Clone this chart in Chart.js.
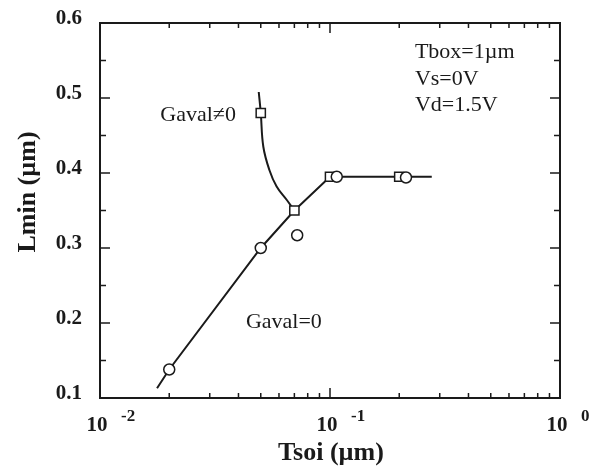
<!DOCTYPE html>
<html>
<head>
<meta charset="utf-8">
<script src="https://cdn.jsdelivr.net/npm/chart.js@4.4.1/dist/chart.umd.min.js"></script>
<style>
  html, body { margin: 0; padding: 0; background: #fff; }
</style>
</head>
<body>
<canvas id="lminChart" width="599" height="468"></canvas>
<script>
// measured points (Tsoi in um, Lmin in um)
const circleX = [0.02, 0.05, 0.072, 0.107, 0.214];
const circleY = [0.138, 0.3, 0.317, 0.395, 0.394];
const squareX = [0.05, 0.07, 0.1, 0.2];
const squareY = [0.48, 0.35, 0.395, 0.395];

// fitted curves
const gavalZeroX = [0.0177, 0.02, 0.05, 0.07, 0.1, 0.2, 0.277];
const gavalZeroY = [0.113, 0.138, 0.3, 0.35, 0.395, 0.395, 0.395];
const gavalNonZeroX = [0.049, 0.05, 0.0513, 0.0545, 0.0586, 0.0649, 0.07];
const gavalNonZeroY = [0.508, 0.48, 0.435, 0.404, 0.382, 0.364, 0.35];

// axes
const xMajorTicks = [0.01, 0.1, 1];
const xExponents = ['-2', '-1', '0'];
const yTicks = [0.1, 0.2, 0.3, 0.4, 0.5, 0.6];

const INK = '#1a1a1a';
const SERIF = '"Liberation Serif", "DejaVu Serif", serif';

const toPoints = (xs, ys) => xs.map((x, i) => ({ x, y: ys[i] }));

const frame = {
  id: 'frame',
  afterDraw(chart) {
    const { ctx, chartArea: a, scales: { x, y } } = chart;
    ctx.save();
    ctx.strokeStyle = INK;
    ctx.fillStyle = INK;

    // box
    ctx.lineWidth = 2;
    ctx.strokeRect(a.left, a.top, a.right - a.left, a.bottom - a.top);

    // x ticks (log), inward on top and bottom
    ctx.lineWidth = 1.5;
    ctx.beginPath();
    for (let d = 0; d < xMajorTicks.length - 1; d++) {
      for (let m = 1; m < 10; m++) {
        const px = x.getPixelForValue(xMajorTicks[d] * m);
        const len = m === 1 ? 10 : 5;
        ctx.moveTo(px, a.bottom); ctx.lineTo(px, a.bottom - len);
        ctx.moveTo(px, a.top); ctx.lineTo(px, a.top + len);
      }
    }
    // y ticks, major and half steps
    for (let i = 0; i < yTicks.length - 1; i++) {
      [yTicks[i], (yTicks[i] + yTicks[i + 1]) / 2].forEach((v, k) => {
        const py = y.getPixelForValue(v);
        const len = k === 0 ? 10 : 6;
        ctx.moveTo(a.left, py); ctx.lineTo(a.left + len, py);
        ctx.moveTo(a.right, py); ctx.lineTo(a.right - len, py);
      });
    }
    ctx.stroke();

    // y tick labels
    ctx.font = `bold 21px ${SERIF}`;
    ctx.textAlign = 'right';
    ctx.textBaseline = 'middle';
    yTicks.forEach(v => {
      ctx.fillText(v.toFixed(1), a.left - 18, y.getPixelForValue(v) - 4);
    });

    // x tick labels: 10 with exponent
    xMajorTicks.forEach((v, i) => {
      const px = x.getPixelForValue(v);
      ctx.font = `bold 21px ${SERIF}`;
      ctx.textAlign = 'center';
      ctx.fillText('10', px - 3, a.bottom + 28);
      ctx.font = `bold 17px ${SERIF}`;
      ctx.textAlign = 'left';
      ctx.fillText(xExponents[i], px + 21, a.bottom + 19);
    });

    // axis titles
    ctx.font = `bold 26px ${SERIF}`;
    ctx.textAlign = 'center';
    ctx.fillText('Tsoi (\u00b5m)', (a.left + a.right) / 2 + 1, a.bottom + 55);
    ctx.save();
    ctx.translate(28, 192);
    ctx.rotate(-Math.PI / 2);
    ctx.fillText('Lmin (\u00b5m)', 0, 0);
    ctx.restore();

    // annotations
    ctx.font = `22px ${SERIF}`;
    ctx.fillText('Gaval\u22600', x.getPixelForValue(0.0267), y.getPixelForValue(0.477));
    ctx.fillText('Gaval=0', x.getPixelForValue(0.063), y.getPixelForValue(0.201));
    ctx.textAlign = 'left';
    ['Tbox=1\u00b5m', 'Vs=0V', 'Vd=1.5V'].forEach((t, i) => {
      ctx.fillText(t, x.getPixelForValue(0.234), y.getPixelForValue(0.561) + i * 26.5);
    });
    ctx.restore();
  }
};

new Chart(document.getElementById('lminChart'), {
  type: 'scatter',
  data: {
    datasets: [
      {
        label: 'circles',
        data: toPoints(circleX, circleY),
        pointStyle: 'circle',
        pointRadius: 5.5,
        pointBackgroundColor: '#fff',
        pointBorderColor: INK,
        pointBorderWidth: 1.5,
        showLine: false
      },
      {
        label: 'squares',
        data: toPoints(squareX, squareY),
        pointStyle: 'rect',
        pointRadius: 6.5,
        pointBackgroundColor: '#fff',
        pointBorderColor: INK,
        pointBorderWidth: 1.5,
        showLine: false
      },
      {
        label: 'Gaval=0',
        data: toPoints(gavalZeroX, gavalZeroY),
        showLine: true,
        borderColor: INK,
        borderWidth: 2,
        pointRadius: 0,
        tension: 0
      },
      {
        label: 'Gaval!=0',
        data: toPoints(gavalNonZeroX, gavalNonZeroY),
        showLine: true,
        borderColor: INK,
        borderWidth: 2,
        pointRadius: 0,
        tension: 0.4
      }
    ]
  },
  options: {
    responsive: false,
    animation: false,
    layout: { padding: { left: 100, top: 23, right: 39, bottom: 70 } },
    plugins: { legend: { display: false }, tooltip: { enabled: false } },
    scales: {
      x: { type: 'logarithmic', min: 0.01, max: 1, display: false },
      y: { type: 'linear', min: 0.1, max: 0.6, display: false }
    }
  },
  plugins: [frame]
});
</script>
</body>
</html>
